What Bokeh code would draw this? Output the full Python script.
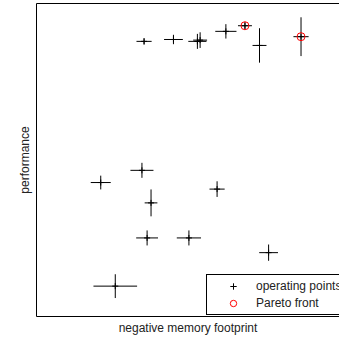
from bokeh.plotting import figure
from bokeh.models import ColumnDataSource, Range1d, LinearAxis, FixedTicker, Legend, LegendItem
from bokeh.embed import file_html
from bokeh.resources import INLINE
import numpy as np

# operating points: negative memory footprint (x), performance (y), with spreads
neg_mem = [35.5, 45.2, 53.1, 54.0, 62.5, 68.8, 73.6, 87.3, 21.2, 34.8, 37.8, 59.6, 36.5, 50.3, 76.6, 26.0]
perf    = [87.9, 88.5, 87.9, 88.3, 91.1, 92.9, 86.6, 89.4, 42.8, 46.7, 36.3, 40.7, 25.1, 25.1, 20.4, 9.7]
mem_err = [2.5, 3.1, 3.0, 2.3, 3.5, 2.3, 2.3, 2.5, 3.3, 3.8, 2.1, 2.5, 3.6, 4.0, 3.1, 7.2]
perf_err = [1.0, 1.5, 2.4, 2.5, 2.3, 1.2, 5.5, 6.2, 2.2, 2.4, 4.3, 2.5, 2.4, 2.4, 2.6, 3.8]

# Pareto front points
pareto_mem = [68.8, 87.3]
pareto_perf = [92.9, 89.4]

x = np.array(neg_mem); y = np.array(perf)
xe = np.array(mem_err); ye = np.array(perf_err)
src = ColumnDataSource(dict(x=x, y=y, xl=x - xe, xh=x + xe, yl=y - ye, yh=y + ye))
psrc = ColumnDataSource(dict(x=pareto_mem, y=pareto_perf))

FONT = "Liberation Sans"

p = figure(width=339, height=339, output_backend="svg", toolbar_location=None,
           x_range=Range1d(0, 100), y_range=Range1d(0, 100),
           min_border_left=36, min_border_right=0, min_border_top=3, min_border_bottom=23,
           x_axis_location=None, y_axis_location=None)
p.grid.visible = False
p.outline_line_color = None
p.background_fill_color = "white"
p.border_fill_color = "white"

def mk_axis(label=None, standoff=3):
    ax = LinearAxis(ticker=FixedTicker(ticks=[]))
    ax.major_tick_out = 0
    ax.major_tick_in = 0
    ax.minor_tick_out = 0
    ax.minor_tick_in = 0
    ax.major_label_standoff = 0
    ax.major_label_text_font_size = "0px"
    ax.axis_line_color = "black"
    ax.axis_line_width = 1
    if label:
        ax.axis_label = label
        ax.axis_label_text_font = FONT
        ax.axis_label_text_font_size = "12px"
        ax.axis_label_text_font_style = "normal"
        ax.axis_label_text_color = "#222222"
        ax.axis_label_standoff = standoff
    return ax

p.add_layout(mk_axis("performance", 5), "left")
p.add_layout(mk_axis("negative memory footprint", 4), "below")
p.add_layout(mk_axis(), "above")

p.segment(x0="xl", y0="y", x1="xh", y1="y", source=src, line_color="black", line_width=1)
p.segment(x0="x", y0="yl", x1="x", y1="yh", source=src, line_color="black", line_width=1)
ops = p.scatter(x="x", y="y", source=src, marker="cross", size=6, line_color="black", line_width=1)
par = p.scatter(x="x", y="y", source=psrc, marker="circle", size=8, fill_color=None,
                line_color="red", line_width=1)

legend = Legend(items=[LegendItem(label="operating points", renderers=[ops]),
                       LegendItem(label="Pareto front", renderers=[par])],
                location=(170, 1))
legend.label_text_font = FONT
legend.label_text_font_size = "12px"
legend.label_text_color = "#222222"
legend.border_line_color = "black"
legend.border_line_width = 1
legend.border_line_alpha = 1
legend.background_fill_color = "white"
legend.background_fill_alpha = 1
legend.padding = 3
legend.spacing = 1
legend.margin = 0
legend.glyph_width = 46
legend.glyph_height = 16
legend.label_height = 16
legend.label_standoff = 0
p.add_layout(legend, "center")

open("out.html", "w").write(file_html(p, INLINE))
